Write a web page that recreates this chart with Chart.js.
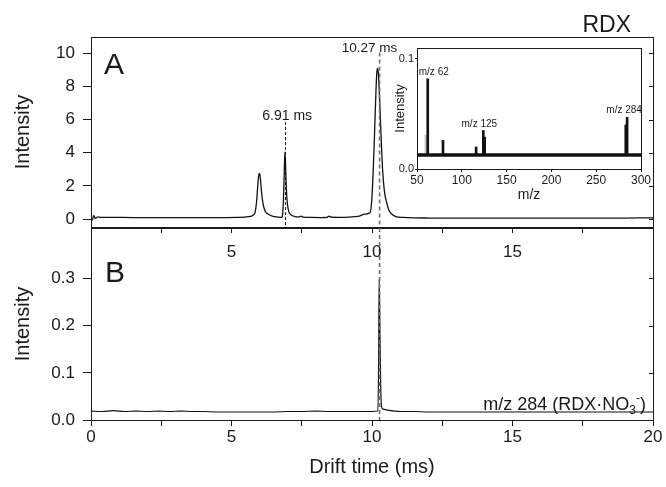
<!DOCTYPE html>
<html><head><meta charset="utf-8">
<script src="https://cdn.jsdelivr.net/npm/chart.js@4.4.1/dist/chart.umd.min.js"></script>
<style>
html,body{margin:0;padding:0;background:#fff;}
#wrap{position:relative;width:666px;height:487px;overflow:hidden;background:#fff;}
canvas{position:absolute;left:0;top:0;}
</style></head><body>
<div id="wrap">
<canvas id="cB" width="666" height="487"></canvas>
<canvas id="cA" width="666" height="487"></canvas>
<canvas id="cI" width="666" height="487"></canvas>
</div>
<script>
// ---------- data ----------
const driftTimeA = [0,0.05,0.1,0.15,0.22,0.35,0.7,1.5,2.5,3.5,4.5,5.2,5.6,5.78,5.84,5.89,5.93,5.97,6.0,6.03,6.07,6.12,6.19,6.3,6.45,6.65,6.78,6.82,6.85,6.88,6.9,6.92,6.95,6.99,7.04,7.12,7.25,7.4,7.47,7.55,7.8,8.2,8.4,8.47,8.55,8.8,9.2,9.5,9.75,9.93,9.99,10.04,10.08,10.13,10.17,10.2,10.23,10.28,10.33,10.38,10.44,10.52,10.6,10.7,10.85,11.1,11.5,12.0,13.0,14.0,15,16,17,18,19,20];
const intensityA = [0.02,-0.06,0.22,0.04,0.12,0.1,0.1,0.09,0.09,0.08,0.08,0.1,0.14,0.25,0.4,1.0,1.9,2.65,2.75,2.4,1.6,0.95,0.5,0.3,0.18,0.12,0.1,0.3,1.2,3.0,4.05,3.5,1.9,0.9,0.45,0.25,0.15,0.13,0.17,0.12,0.1,0.09,0.1,0.18,0.11,0.1,0.12,0.16,0.3,0.38,1.1,2.8,4.6,7.2,8.8,9.1,8.7,6.8,4.7,2.9,1.7,1.0,0.55,0.3,0.15,0.1,0.07,0.06,0.05,0.05,0.06,0.05,0.06,0.05,0.06,0.07];

const driftTimeB = [0,0.4,0.8,1.2,1.6,2.0,2.4,2.8,3.2,3.6,4.0,4.5,5.0,5.5,6.0,6.5,7.0,7.5,8.0,8.5,9.0,9.5,10.0,10.21,10.235,10.255,10.28,10.31,10.34,10.4,10.55,10.8,11.0,11.5,12.0,12.5,13.0,13.5,14.0,14.5,15.0,15.5,16.0,16.5,17.0,17.5,18.0,18.5,19.0,19.5,20.0];
const intensityB = [0.019,0.018,0.020,0.018,0.019,0.018,0.019,0.018,0.019,0.018,0.018,0.017,0.017,0.017,0.017,0.017,0.018,0.018,0.019,0.018,0.018,0.018,0.018,0.019,0.12,0.298,0.2,0.07,0.028,0.023,0.021,0.019,0.018,0.018,0.017,0.017,0.017,0.017,0.017,0.017,0.017,0.017,0.017,0.017,0.017,0.017,0.017,0.017,0.017,0.017,0.017];

const mzValues = [60,62,79,116,124,125.5,283,284.5];
const mzIntensity = [0.031,0.082,0.026,0.020,0.035,0.029,0.040,0.047];
const mzBaseline = 0.0127;
const mzLabelText = ['m/z 62','m/z 125','m/z 284'];
const mzLabelPeak = [62,124,284.5];

const xTicks = [0,2.5,5,7.5,10,12.5,15,17.5,20];
const xLabelsA = [5,10,15];
const xLabelsB = [0,5,10,15,20];
const yTicksA = [0,2,4,6,8,10];
const yTicksB = [0,0.1,0.2,0.3];
const mzTicks = [50,100,150,200,250,300];
const mzYTicks = [0,0.1];
const peakMarks = [6.91,10.27];
const peakLabels = ['6.91 ms','10.27 ms'];

// ---------- helpers ----------
const FONT = "'Liberation Sans', Arial, Helvetica, sans-serif";
Chart.defaults.font.family = FONT;
Chart.defaults.color = '#1a1a1a';
const INK = '#1a1a1a';
function fixedTicks(arr){ return s => { s.ticks = arr.map(v => ({value:v})); }; }
function pts(xs, ys){ return xs.map((x,i)=>({x:x, y:ys[i]})); }
function seg(ctx,x1,y1,x2,y2){ ctx.beginPath(); ctx.moveTo(x1,y1); ctx.lineTo(x2,y2); ctx.stroke(); }
function frame(ctx,a){ ctx.strokeStyle=INK; ctx.lineWidth=1; ctx.strokeRect(Math.round(a.left)+0.5, Math.round(a.top)+0.5, Math.round(a.right-a.left), Math.round(a.bottom-a.top)); }

const baseOpts = { responsive:false, animation:false, events:[], plugins:{legend:{display:false}, tooltip:{enabled:false}} };

// ---------- panel A ----------
const annotA = { id:'annotA', afterDraw(chart){
  const {ctx, chartArea:a, scales:{x,y}} = chart;
  ctx.save();
  frame(ctx,a);
  ctx.strokeStyle=INK; ctx.lineWidth=1;
  yTicksA.forEach(v=>{ const py=Math.round(y.getPixelForValue(v))+0.5; seg(ctx,a.right-4,py,a.right,py); });
  // dashed markers
  const x1 = x.getPixelForValue(peakMarks[0]);
  ctx.setLineDash([3,2]); ctx.strokeStyle='#111'; ctx.lineWidth=1;
  seg(ctx,Math.round(x1)+0.5,y.getPixelForValue(5.85),Math.round(x1)+0.5,a.bottom);
  const x2 = x.getPixelForValue(peakMarks[1]);
  ctx.setLineDash([4,3]); ctx.strokeStyle='#6e6e6e'; ctx.lineWidth=1.6;
  seg(ctx,x2,y.getPixelForValue(10.05),x2,a.bottom);
  ctx.setLineDash([]);
  ctx.fillStyle=INK; ctx.textBaseline='alphabetic';
  ctx.font='14px '+FONT; ctx.textAlign='center';
  ctx.fillText(peakLabels[0], x1+2, y.getPixelForValue(5.95));
  ctx.font='13.5px '+FONT;
  ctx.fillText(peakLabels[1], x2-10, y.getPixelForValue(10.1));
  ctx.font='30px '+FONT; ctx.textAlign='left';
  ctx.fillText('A', a.left+13, a.top+37);
  ctx.font='23px '+FONT; ctx.textAlign='right';
  ctx.fillText('RDX', a.right-22, a.top-5);
  ctx.restore();
}};

new Chart(document.getElementById('cA'), {
  type:'line',
  data:{datasets:[{data:pts(driftTimeA,intensityA), borderColor:'#111', borderWidth:1.3, pointRadius:0, cubicInterpolationMode:'monotone', fill:false}]},
  options:Object.assign({}, baseOpts, {
    layout:{padding:{left:0,right:13,top:37,bottom:0}},
    scales:{
      x:{type:'linear', min:0, max:20, afterBuildTicks:fixedTicks(xTicks), afterFit:s=>{s.height=260;},
         grid:{drawOnChartArea:false, tickLength:6, color:INK}, border:{display:false},
         ticks:{padding:9, font:{size:17}, maxRotation:0, autoSkip:false, callback:v=> xLabelsA.includes(v)? String(v):''}},
      y:{type:'linear', min:-0.48, max:10.98, afterBuildTicks:fixedTicks(yTicksA), afterFit:s=>{s.width=91;},
         grid:{drawOnChartArea:false, tickLength:8, color:INK}, border:{display:false},
         ticks:{padding:8, font:{size:17}, autoSkip:false},
         title:{display:true, text:'Intensity', font:{size:20}, padding:{top:11,bottom:0}}}
    }
  }),
  plugins:[annotA]
});

// ---------- panel B ----------
const annotB = { id:'annotB', afterDraw(chart){
  const {ctx, chartArea:a, scales:{x,y}} = chart;
  ctx.save();
  frame(ctx,a);
  ctx.strokeStyle=INK; ctx.lineWidth=1;
  yTicksB.forEach(v=>{ const py=Math.round(y.getPixelForValue(v))+0.5; seg(ctx,a.right-4,py,a.right,py); });
  const x2 = x.getPixelForValue(peakMarks[1]);
  ctx.setLineDash([4,3]); ctx.strokeStyle='#6e6e6e'; ctx.lineWidth=1.6;
  seg(ctx,x2,a.top,x2,a.bottom);
  ctx.setLineDash([]);
  ctx.fillStyle=INK; ctx.textBaseline='alphabetic';
  ctx.font='30px '+FONT; ctx.textAlign='left';
  ctx.fillText('B', a.left+14, a.top+54);
  // m/z 284 (RDX·NO3-)
  const big='18px '+FONT, small='12px '+FONT;
  const parts=[['m/z 284 (RDX\u00B7NO',big,0],['3',small,4],['-',small,-8],[')',big,0]];
  let total=0; parts.forEach(p=>{ ctx.font=p[1]; p.push(ctx.measureText(p[0]).width); total+=p[3]; });
  let px=a.right-7-total; const base=a.bottom-10;
  parts.forEach(p=>{ ctx.font=p[1]; ctx.fillText(p[0],px,base+p[2]); px+=p[3]; });
  ctx.restore();
}};

new Chart(document.getElementById('cB'), {
  type:'line',
  data:{datasets:[{data:pts(driftTimeB,intensityB), borderColor:'#111', borderWidth:1.2, pointRadius:0, cubicInterpolationMode:'monotone', fill:false}]},
  options:Object.assign({}, baseOpts, {
    layout:{padding:{left:0,right:13,top:228,bottom:0}},
    scales:{
      x:{type:'linear', min:0, max:20, afterBuildTicks:fixedTicks(xTicks), afterFit:s=>{s.height=67;},
         grid:{drawOnChartArea:false, tickLength:6, color:INK}, border:{display:false},
         ticks:{padding:1, font:{size:17}, maxRotation:0, autoSkip:false, callback:v=> xLabelsB.includes(v)? String(v):''},
         title:{display:true, text:'Drift time (ms)', font:{size:20}, padding:{top:0,bottom:8}}},
      y:{type:'linear', min:0, max:0.407, afterBuildTicks:fixedTicks(yTicksB), afterFit:s=>{s.width=91;},
         grid:{drawOnChartArea:false, tickLength:8, color:INK}, border:{display:false},
         ticks:{padding:8, font:{size:17}, autoSkip:false, callback:v=>v.toFixed(1)},
         title:{display:true, text:'Intensity', font:{size:20}, padding:{top:11,bottom:0}}}
    }
  }),
  plugins:[annotB]
});

// ---------- inset ----------
const annotI = { id:'annotI',
  beforeDraw(chart){ const {ctx, chartArea:a}=chart; ctx.save(); ctx.fillStyle='#fff'; ctx.fillRect(a.left,a.top,a.right-a.left,a.bottom-a.top); ctx.restore(); },
  afterDraw(chart){
    const {ctx, chartArea:a, scales:{x,y}} = chart;
    ctx.save();
    frame(ctx,a);
    ctx.fillStyle=INK; ctx.font='10px '+FONT; ctx.textAlign='center'; ctx.textBaseline='alphabetic';
    const offs=[6,-4,-3];
    mzLabelText.forEach((t,i)=>{
      const k = mzValues.indexOf(mzLabelPeak[i]);
      const top = y.getPixelForValue(mzIntensity[k]);
      ctx.fillText(t, x.getPixelForValue(mzLabelPeak[i])+offs[i], top-4);
    });
    ctx.restore();
  }};

new Chart(document.getElementById('cI'), {
  type:'bar',
  data:{datasets:[
    {type:'line', data:[{x:50,y:mzBaseline},{x:300,y:mzBaseline}], borderColor:'#111', borderWidth:3.5, pointRadius:0, order:0},
    {type:'bar', data:mzValues.map((m,i)=>({x:m, y:[mzBaseline, mzIntensity[i]]})), backgroundColor:mzValues.map((m,i)=> i===0?'#c4c4c4':'#111'), barThickness:2, order:1}
  ]},
  options:Object.assign({}, baseOpts, {
    layout:{padding:{left:387,right:25,top:48,bottom:283}},
    scales:{
      x:{type:'linear', min:50, max:300, offset:false, afterBuildTicks:fixedTicks(mzTicks), afterFit:s=>{s.height=35;},
         grid:{drawOnChartArea:false, offset:false, tickLength:3, color:INK}, border:{display:false},
         ticks:{padding:1, font:{size:12}, maxRotation:0, autoSkip:false},
         title:{display:true, text:'m/z', font:{size:14}, padding:{top:0,bottom:0}}},
      y:{type:'linear', min:0, max:0.11, afterBuildTicks:fixedTicks(mzYTicks), afterFit:s=>{s.width=30;},
         grid:{drawOnChartArea:false, tickLength:2, color:INK}, border:{display:false},
         ticks:{padding:1, font:{size:11}, autoSkip:false, callback:v=>v.toFixed(1)},
         title:{display:true, text:'Intensity', font:{size:13}, padding:{top:6,bottom:0}}}
    }
  }),
  plugins:[annotI]
});
</script>
</body></html>
